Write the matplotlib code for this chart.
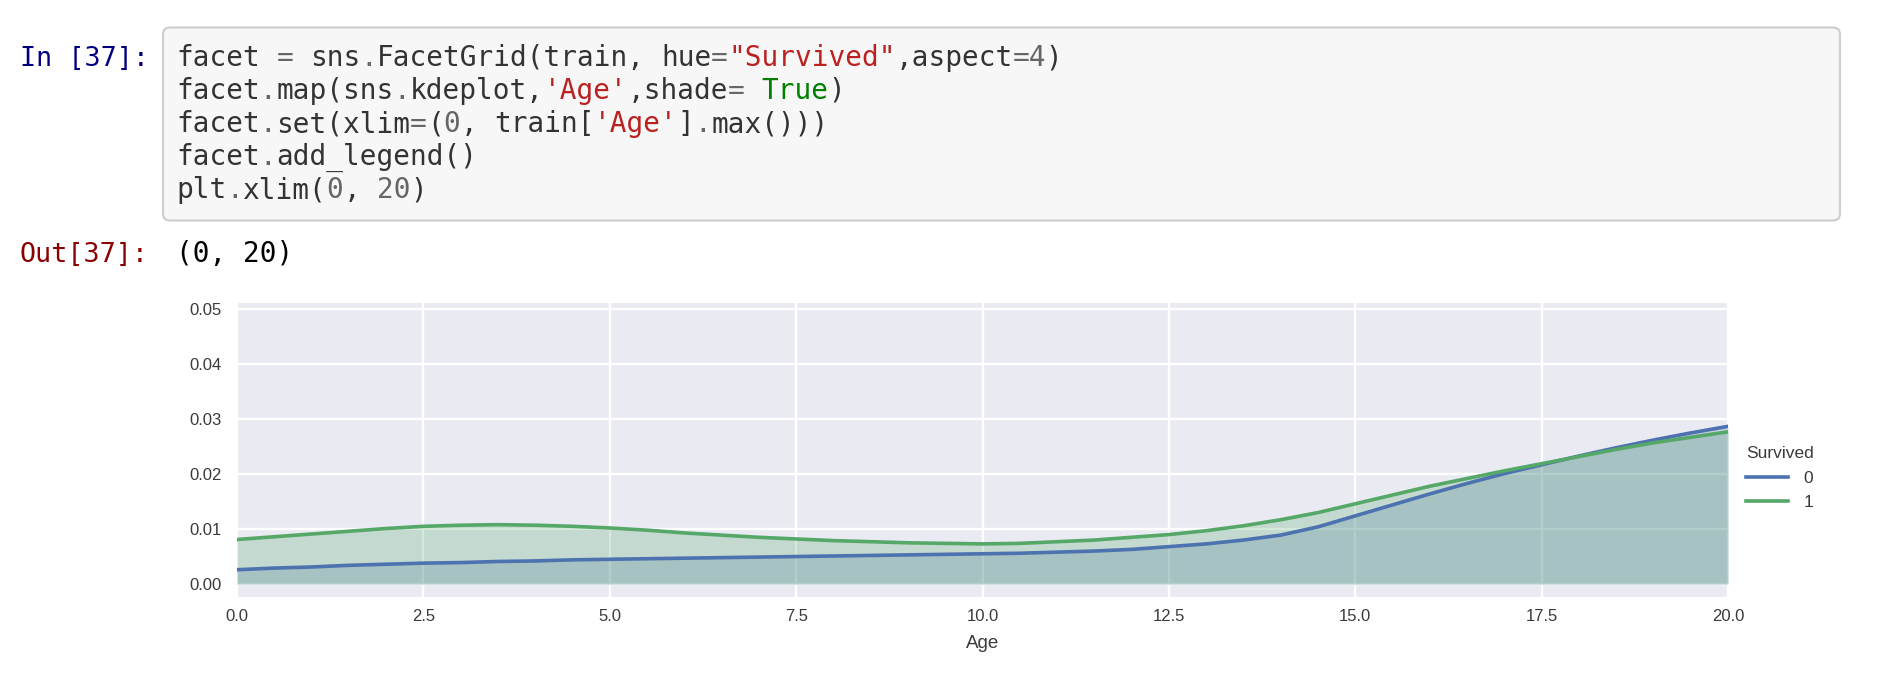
import re
import matplotlib
matplotlib.use("Agg")
import matplotlib.pyplot as plt
from matplotlib.patches import FancyBboxPatch

# ---------------- data ----------------
age = [0, 0.5, 1, 1.5, 2, 2.5, 3, 3.5, 4, 4.5, 5, 5.5, 6, 6.5, 7, 7.5, 8, 8.5, 9, 9.5,
       10, 10.5, 11, 11.5, 12, 12.5, 13, 13.5, 14, 14.5, 15, 15.5, 16, 16.5, 17, 17.5,
       18, 18.5, 19, 19.5, 20]
density_0 = [0.0026, 0.0029, 0.0031, 0.0034, 0.0036, 0.0038, 0.0039, 0.0041, 0.0042, 0.0044,
             0.0045, 0.0046, 0.0047, 0.0048, 0.0049, 0.0050, 0.0051, 0.0052, 0.0053, 0.0054,
             0.0055, 0.0056, 0.0058, 0.0060, 0.0063, 0.0068, 0.0073, 0.0080, 0.0089, 0.0104,
             0.0124, 0.0144, 0.0164, 0.0183, 0.0201, 0.0217, 0.0233, 0.0248, 0.0262, 0.0275,
             0.0287]
density_1 = [0.0081, 0.0086, 0.0091, 0.0096, 0.0101, 0.0105, 0.0107, 0.0108, 0.0107, 0.0105,
             0.0102, 0.0098, 0.0093, 0.0089, 0.0085, 0.0082, 0.0079, 0.0077, 0.0075, 0.0074,
             0.0073, 0.0074, 0.0077, 0.0080, 0.0085, 0.0090, 0.0097, 0.0106, 0.0117, 0.0130,
             0.0146, 0.0162, 0.0178, 0.0192, 0.0206, 0.0219, 0.0232, 0.0245, 0.0257, 0.0267,
             0.0277]
hue_labels = ["0", "1"]
legend_title = "Survived"
x_label = "Age"
x_ticks = [0, 2.5, 5, 7.5, 10, 12.5, 15, 17.5, 20]
x_tick_labels = ["0.0", "2.5", "5.0", "7.5", "10.0", "12.5", "15.0", "17.5", "20.0"]
y_ticks = [0.00, 0.01, 0.02, 0.03, 0.04, 0.05]
y_tick_labels = ["0.00", "0.01", "0.02", "0.03", "0.04", "0.05"]

code_lines = [
    'facet = sns.FacetGrid(train, hue="Survived",aspect=4)',
    "facet.map(sns.kdeplot,'Age',shade= True)",
    "facet.set(xlim=(0, train['Age'].max()))",
    "facet.add_legend()",
    "plt.xlim(0, 20)",
]
in_prompt = "In [37]:"
out_prompt = "Out[37]:"
out_text = "(0, 20)"

# ---------------- figure ----------------
W, H = 1882, 674
DPI = 100
fig = plt.figure(figsize=(W / DPI, H / DPI), dpi=DPI, facecolor="white")

# pixel-space background axes for the notebook chrome
bg = fig.add_axes([0, 0, 1, 1], zorder=0)
bg.set_xlim(0, W)
bg.set_ylim(H, 0)
bg.axis("off")

box = FancyBboxPatch((163, 27.5), 1677, 193, boxstyle="round,pad=0,rounding_size=7",
                     facecolor="#f7f7f7", edgecolor="#cfcfcf", linewidth=1.6)
bg.add_patch(box)

MONO = "DejaVu Sans Mono"
FS = 20
cw = 0.6021 * FS * DPI / 72.0
x0 = 176
baselines = [66, 99, 132, 165, 198]

C_TXT = "#333333"
C_STR = "#BA2121"
C_NUM = "#666666"
C_OP = "#666666"
C_KW = "#008000"


def tokenize(line):
    toks = []
    pat = re.compile(r"(\"[^\"]*\"|'[^']*')|(\bTrue\b|\bFalse\b|\bNone\b)|(\b\d+\b)|([.=])|(\s+)|([^\s.=\"']+?)")
    for m in pat.finditer(line):
        s = m.group(0)
        if m.group(1):
            c = C_STR
        elif m.group(2):
            c = C_KW
        elif m.group(3):
            c = C_NUM
        elif m.group(4):
            c = C_OP
        elif m.group(5):
            c = None
        else:
            c = C_TXT
        toks.append((m.start(), s, c))
    merged = []
    for st, s, c in toks:
        if c is None:
            continue
        if merged and merged[-1][2] == c and merged[-1][0] + len(merged[-1][1]) == st:
            merged[-1] = (merged[-1][0], merged[-1][1] + s, c)
        else:
            merged.append((st, s, c))
    return merged


for line, yb in zip(code_lines, baselines):
    for st, s, c in tokenize(line):
        bg.text(x0 + st * cw, yb, s, family=MONO, fontsize=FS, color=c,
                ha="left", va="baseline")

bg.text(149, 66, in_prompt, family=MONO, fontsize=19.3, color="#000080",
        ha="right", va="baseline")
bg.text(149, 262, out_prompt, family=MONO, fontsize=19.3, color="#8B0000",
        ha="right", va="baseline")
bg.text(x0, 262, out_text, family=MONO, fontsize=FS, color="#000000",
        ha="left", va="baseline")

# ---------------- main plot ----------------
L, R, T, B = 237, 1728, 302.7, 596.7
ax = fig.add_axes([L / W, 1 - B / H, (R - L) / W, (B - T) / H], zorder=1)
ax.set_facecolor("#EAEAF2")
for sp in ax.spines.values():
    sp.set_visible(False)
ax.grid(True, color="white", linewidth=1.7)
ax.set_axisbelow(True)

colors = ["#4C72B0", "#55A868"]
for dens, col, lab in zip([density_0, density_1], colors, hue_labels):
    ax.fill_between(age, 0, dens, color=col, alpha=0.25, linewidth=0, zorder=2)
    ax.plot(age, dens, color=col, linewidth=2.6, label=lab, zorder=3)

ax.set_xlim(0, 20)
ax.set_ylim(-0.00231, 0.0512)
SANS = "Liberation Sans"
TXTC = "#3a3a3a"
ax.set_xticks(x_ticks)
ax.set_xticklabels(x_tick_labels, family=SANS, fontsize=12, color=TXTC)
ax.set_yticks(y_ticks)
ax.set_yticklabels(y_tick_labels, family=SANS, fontsize=12, color=TXTC)
ax.tick_params(axis="both", length=0)
ax.tick_params(axis="y", pad=11)
ax.tick_params(axis="x", pad=9)
ax.set_xlabel(x_label, family=SANS, fontsize=13.5, color=TXTC, va="center")
ax.xaxis.set_label_coords(0.5, -(643 - B) / (B - T))

leg = ax.legend(title=legend_title, loc="upper left",
                bbox_to_anchor=(1746 / W, 1 - 446 / H), bbox_transform=fig.transFigure,
                frameon=False, borderpad=0, borderaxespad=0, handlelength=2.4,
                handletextpad=0.9, labelspacing=0.55, prop={"family": SANS, "size": 12.5})
leg.get_title().set_family(SANS)
leg.get_title().set_fontsize(12.5)
leg.get_title().set_color(TXTC)
for t in leg.get_texts():
    t.set_color(TXTC)
for h in leg.get_lines():
    h.set_linewidth(2.6)

fig.savefig("out.png", dpi=DPI, facecolor="white")
